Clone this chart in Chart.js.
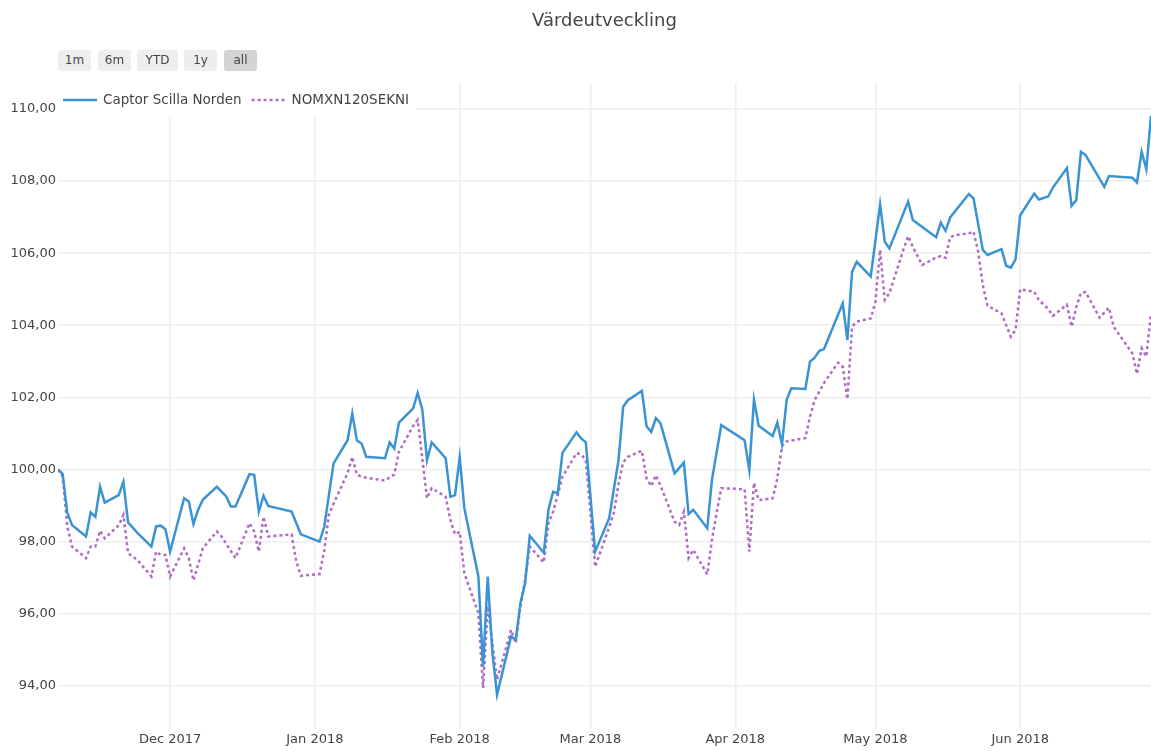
<!DOCTYPE html>
<html>
<head>
<meta charset="utf-8">
<title>Värdeutveckling</title>
<script src="https://cdn.jsdelivr.net/npm/chart.js@4.4.1/dist/chart.umd.min.js"></script>
<style>
  html, body { margin: 0; padding: 0; background: #fff; }
  #wrap { position: relative; width: 1151px; height: 751px; overflow: hidden; }
  #title {
    position: absolute; left: 58px; width: 1093px; top: 9px;
    text-align: center; font: 18px "DejaVu Sans", sans-serif; color: #444;
  }
  .range-btn {
    position: absolute; top: 50px; height: 21px;
    background: #eeeeee; border-radius: 3px; text-align: center;
    font: 12px "DejaVu Sans", sans-serif; line-height: 21px; color: #444;
  }
  .range-btn.active { background: #d4d4d4; }
  canvas { position: absolute; left: 0; top: 0; }
</style>
</head>
<body>
<div id="wrap">
  <canvas id="perf" width="1151" height="751"></canvas>
  <div id="title">Värdeutveckling</div>
  <div id="button-container"></div>
</div>
<script>
// Captor Scilla Norden, index values
const captorDates = [
  "2017-11-07", "2017-11-08", "2017-11-09", "2017-11-10", "2017-11-13", "2017-11-14", "2017-11-15",
  "2017-11-16", "2017-11-17", "2017-11-20", "2017-11-21", "2017-11-22", "2017-11-24", "2017-11-27",
  "2017-11-28", "2017-11-29", "2017-11-30", "2017-12-01", "2017-12-04", "2017-12-05", "2017-12-06",
  "2017-12-07", "2017-12-08", "2017-12-11", "2017-12-13", "2017-12-14", "2017-12-15", "2017-12-18",
  "2017-12-19", "2017-12-20", "2017-12-21", "2017-12-22", "2017-12-27", "2017-12-29", "2018-01-02",
  "2018-01-03", "2018-01-05", "2018-01-08", "2018-01-09", "2018-01-10", "2018-01-11", "2018-01-12",
  "2018-01-16", "2018-01-17", "2018-01-18", "2018-01-19", "2018-01-22", "2018-01-23", "2018-01-24",
  "2018-01-25", "2018-01-26", "2018-01-29", "2018-01-30", "2018-01-31", "2018-02-01", "2018-02-02",
  "2018-02-05", "2018-02-06", "2018-02-07", "2018-02-08", "2018-02-09", "2018-02-12", "2018-02-13",
  "2018-02-14", "2018-02-15", "2018-02-16", "2018-02-19", "2018-02-20", "2018-02-21", "2018-02-22",
  "2018-02-23", "2018-02-26", "2018-02-27", "2018-02-28", "2018-03-02", "2018-03-05", "2018-03-07",
  "2018-03-08", "2018-03-09", "2018-03-12", "2018-03-13", "2018-03-14", "2018-03-15", "2018-03-16",
  "2018-03-19", "2018-03-21", "2018-03-22", "2018-03-23", "2018-03-26", "2018-03-27", "2018-03-29",
  "2018-04-03", "2018-04-04", "2018-04-05", "2018-04-06", "2018-04-09", "2018-04-10", "2018-04-11",
  "2018-04-12", "2018-04-13", "2018-04-16", "2018-04-17", "2018-04-18", "2018-04-19", "2018-04-20",
  "2018-04-24", "2018-04-25", "2018-04-26", "2018-04-27", "2018-04-30", "2018-05-02", "2018-05-03",
  "2018-05-04", "2018-05-08", "2018-05-09", "2018-05-14", "2018-05-15", "2018-05-16", "2018-05-17",
  "2018-05-21", "2018-05-22", "2018-05-24", "2018-05-25", "2018-05-28", "2018-05-29", "2018-05-30",
  "2018-05-31", "2018-06-01", "2018-06-04", "2018-06-05", "2018-06-07", "2018-06-08", "2018-06-11",
  "2018-06-12", "2018-06-13", "2018-06-14", "2018-06-15", "2018-06-19", "2018-06-20", "2018-06-25",
  "2018-06-26", "2018-06-27", "2018-06-28", "2018-06-29"
];
const captorValues = [
  100.00, 99.87, 98.79, 98.46, 98.14, 98.81, 98.69,
  99.52, 99.08, 99.29, 99.66, 98.53, 98.24, 97.86,
  98.42, 98.44, 98.34, 97.72, 99.20, 99.11, 98.49,
  98.88, 99.16, 99.52, 99.25, 98.97, 98.97, 99.87,
  99.85, 98.83, 99.27, 98.99, 98.83, 98.20, 98.00,
  98.41, 100.17, 100.81, 101.55, 100.80, 100.72, 100.35,
  100.31, 100.75, 100.58, 101.30, 101.69, 102.12, 101.66,
  100.26, 100.75, 100.31, 99.24, 99.29, 100.34, 98.92,
  97.03, 94.53, 97.03, 94.91, 93.75, 95.37, 95.27,
  96.29, 96.84, 98.16, 97.69, 98.88, 99.38, 99.34,
  100.46, 101.03, 100.86, 100.75, 97.72, 98.65, 100.26,
  101.74, 101.92, 102.18, 101.20, 101.04, 101.42, 101.28,
  99.89, 100.19, 98.76, 98.88, 98.37, 99.71, 101.23,
  100.81, 99.98, 101.94, 101.21, 100.93, 101.30, 100.70,
  101.93, 102.25, 102.23, 102.99, 103.10, 103.29, 103.34,
  104.61, 103.59, 105.48, 105.76, 105.35, 107.35, 106.32,
  106.13, 107.43, 106.92, 106.44, 106.85, 106.62, 106.99,
  107.64, 107.52, 106.09, 105.95, 106.11, 105.65, 105.60,
  105.83, 107.05, 107.65, 107.49, 107.57, 107.82, 108.36,
  107.31, 107.47, 108.81, 108.72, 107.84, 108.14, 108.09,
  107.96, 108.81, 108.33, 109.81
];

// NOMXN120SEKNI benchmark
const nomxDates = [
  "2017-11-07", "2017-11-08", "2017-11-09", "2017-11-10", "2017-11-13", "2017-11-14", "2017-11-15",
  "2017-11-16", "2017-11-17", "2017-11-20", "2017-11-21", "2017-11-22", "2017-11-24", "2017-11-27",
  "2017-11-28", "2017-11-29", "2017-11-30", "2017-12-01", "2017-12-04", "2017-12-05", "2017-12-06",
  "2017-12-08", "2017-12-11", "2017-12-12", "2017-12-15", "2017-12-18", "2017-12-19", "2017-12-20",
  "2017-12-21", "2017-12-22", "2017-12-27", "2017-12-28", "2017-12-29", "2018-01-02", "2018-01-03",
  "2018-01-04", "2018-01-05", "2018-01-08", "2018-01-09", "2018-01-10", "2018-01-11", "2018-01-12",
  "2018-01-16", "2018-01-17", "2018-01-18", "2018-01-19", "2018-01-22", "2018-01-23", "2018-01-24",
  "2018-01-25", "2018-01-26", "2018-01-29", "2018-01-30", "2018-01-31", "2018-02-01", "2018-02-02",
  "2018-02-05", "2018-02-06", "2018-02-07", "2018-02-08", "2018-02-09", "2018-02-12", "2018-02-13",
  "2018-02-14", "2018-02-15", "2018-02-16", "2018-02-19", "2018-02-20", "2018-02-21", "2018-02-22",
  "2018-02-23", "2018-02-26", "2018-02-27", "2018-02-28", "2018-03-02", "2018-03-05", "2018-03-06",
  "2018-03-07", "2018-03-08", "2018-03-09", "2018-03-12", "2018-03-13", "2018-03-14", "2018-03-15",
  "2018-03-16", "2018-03-19", "2018-03-20", "2018-03-21", "2018-03-22", "2018-03-23", "2018-03-26",
  "2018-03-27", "2018-03-28", "2018-03-29", "2018-04-03", "2018-04-04", "2018-04-05", "2018-04-06",
  "2018-04-09", "2018-04-10", "2018-04-11", "2018-04-12", "2018-04-13", "2018-04-16", "2018-04-17",
  "2018-04-18", "2018-04-19", "2018-04-20", "2018-04-23", "2018-04-24", "2018-04-25", "2018-04-26",
  "2018-04-27", "2018-04-30", "2018-05-01", "2018-05-02", "2018-05-03", "2018-05-04", "2018-05-07",
  "2018-05-08", "2018-05-09", "2018-05-11", "2018-05-14", "2018-05-15", "2018-05-16", "2018-05-17",
  "2018-05-18", "2018-05-21", "2018-05-22", "2018-05-23", "2018-05-24", "2018-05-25", "2018-05-28",
  "2018-05-29", "2018-05-30", "2018-05-31", "2018-06-01", "2018-06-04", "2018-06-05", "2018-06-07",
  "2018-06-08", "2018-06-11", "2018-06-12", "2018-06-13", "2018-06-14", "2018-06-15", "2018-06-18",
  "2018-06-19", "2018-06-20", "2018-06-21", "2018-06-25", "2018-06-26", "2018-06-27", "2018-06-28",
  "2018-06-29"
];
const nomxValues = [
  100.00, 99.80, 98.41, 97.86, 97.54, 97.86, 97.86,
  98.30, 98.09, 98.45, 98.74, 97.68, 97.49, 97.03,
  97.72, 97.63, 97.63, 97.03, 97.81, 97.54, 96.92,
  97.81, 98.28, 98.14, 97.54, 98.51, 98.28, 97.72,
  98.69, 98.14, 98.20, 97.45, 97.05, 97.10, 97.75,
  98.75, 99.05, 99.90, 100.35, 99.85, 99.80, 99.77,
  99.69, 99.78, 99.86, 100.49, 101.20, 101.37, 100.30,
  99.20, 99.48, 99.24, 98.60, 98.20, 98.27, 97.12,
  96.01, 93.94, 96.20, 95.18, 94.17, 95.55, 95.18,
  96.20, 96.94, 97.86, 97.42, 98.51, 98.83, 99.30,
  99.80, 100.45, 100.42, 100.25, 97.30, 98.40, 98.80,
  99.60, 100.20, 100.35, 100.52, 99.75, 99.54, 99.84,
  99.55, 98.55, 98.46, 98.83, 97.54, 97.77, 97.09,
  98.04, 98.80, 99.48, 99.45, 97.72, 99.63, 99.15,
  99.20, 99.75, 100.65, 100.78, 100.80, 100.87, 101.47,
  101.93, 102.16, 102.40, 102.96, 102.85, 101.95, 103.96,
  104.10, 104.19, 104.65, 106.09, 104.70, 104.89, 106.10,
  106.47, 106.18, 105.67, 105.88, 105.92, 105.87, 106.44,
  106.50, 106.55, 106.60, 106.04, 105.10, 104.54, 104.33,
  104.00, 103.68, 103.87, 105.00, 104.93, 104.70, 104.45,
  104.26, 104.57, 103.96, 104.50, 104.90, 104.92, 104.21,
  104.35, 104.49, 103.96, 103.22, 102.65, 103.36, 103.13,
  104.33
];

const yTicks = [94, 96, 98, 100, 102, 104, 106, 108, 110];
const monthTicks = ["2017-12-01", "2018-01-01", "2018-02-01", "2018-03-01", "2018-04-01", "2018-05-01", "2018-06-01"];
const monthLabels = ["Dec 2017", "Jan 2018", "Feb 2018", "Mar 2018", "Apr 2018", "May 2018", "Jun 2018"];
const rangeButtons = ["1m", "6m", "YTD", "1y", "all"];

// range selector buttons (static, "all" is selected)
const buttonLeft = [58, 98, 137, 184, 224];
const buttonWidth = [33, 33, 41, 33, 33];
function createButtons() {
  const container = document.getElementById("button-container");
  rangeButtons.forEach((label, i) => {
    const btn = document.createElement("div");
    btn.className = "range-btn" + (label === "all" ? " active" : "");
    btn.textContent = label;
    btn.style.left = buttonLeft[i] + "px";
    btn.style.width = buttonWidth[i] + "px";
    container.appendChild(btn);
  });
}

function toPoints(dates, values) {
  return dates.map((d, i) => ({ x: Date.parse(d), y: values[i] }));
}

// legend drawn inside the plot, top-left, on a white box
const insideLegend = {
  id: "insideLegend",
  afterDraw(chart) {
    const ctx = chart.ctx;
    const area = chart.chartArea;
    const y = area.top + 17;
    ctx.save();
    ctx.font = '13.5px "DejaVu Sans"';
    let x = area.left + 5;
    const items = chart.data.datasets.map((ds) => {
      const item = { ds, x, w: ctx.measureText(ds.label).width };
      x += 34 + 6 + item.w + 10;
      return item;
    });
    ctx.fillStyle = "#fff";
    ctx.fillRect(area.left, area.top, x - area.left - 3, 34);
    items.forEach(({ ds, x }) => {
      ctx.strokeStyle = ds.borderColor;
      ctx.lineWidth = ds.borderWidth;
      ctx.setLineDash(ds.borderDash || []);
      ctx.beginPath();
      ctx.moveTo(x, y);
      ctx.lineTo(x + 34, y);
      ctx.stroke();
      ctx.setLineDash([]);
      ctx.fillStyle = "#444";
      ctx.textBaseline = "middle";
      ctx.fillText(ds.label, x + 40, y);
    });
    ctx.restore();
  },
};

function initializeChart() {
  Chart.defaults.font.family = '"DejaVu Sans", sans-serif';
  Chart.defaults.color = "#444";
  const ctx = document.getElementById("perf").getContext("2d");
  return new Chart(ctx, {
    type: "line",
    data: {
      datasets: [
        {
          label: "Captor Scilla Norden",
          data: toPoints(captorDates, captorValues),
          borderColor: "#3a93d3",
          borderWidth: 2.5,
          pointRadius: 0,
          tension: 0,
        },
        {
          label: "NOMXN120SEKNI",
          data: toPoints(nomxDates, nomxValues),
          borderColor: "#b06cc4",
          borderWidth: 2.5,
          borderDash: [3, 3],
          pointRadius: 0,
          tension: 0,
        },
      ],
    },
    options: {
      responsive: false,
      animation: false,
      devicePixelRatio: 1,
      layout: {
        padding: { top: 83, left: 0, right: 0, bottom: 0 },
      },
      plugins: {
        legend: { display: false },
        title: { display: false },
        tooltip: { enabled: false },
      },
      scales: {
        x: {
          type: "linear",
          min: Date.parse("2017-11-07"),
          max: Date.parse("2018-06-29"),
          afterBuildTicks: (scale) => {
            scale.ticks = monthTicks.map((d) => ({ value: Date.parse(d) }));
          },
          afterFit: (scale) => {
            scale.height = 22;
          },
          ticks: {
            autoSkip: false,
            maxRotation: 0,
            padding: 3,
            font: { size: 13 },
            callback: (value, index) => monthLabels[index],
          },
          grid: { color: "#eeeeee", lineWidth: 1.5, drawTicks: false },
          border: { display: false },
        },
        y: {
          min: 92.8,
          max: 110.72,
          afterBuildTicks: (scale) => {
            scale.ticks = yTicks.map((v) => ({ value: v }));
          },
          afterFit: (scale) => {
            scale.width = 58;
          },
          ticks: {
            padding: 2,
            font: { size: 13 },
            callback: (value) => value.toFixed(2).replace(".", ","),
          },
          grid: { color: "#eeeeee", lineWidth: 1.5, drawTicks: false },
          border: { display: false },
        },
      },
    },
    plugins: [insideLegend],
  });
}

createButtons();
initializeChart();
</script>
</body>
</html>
